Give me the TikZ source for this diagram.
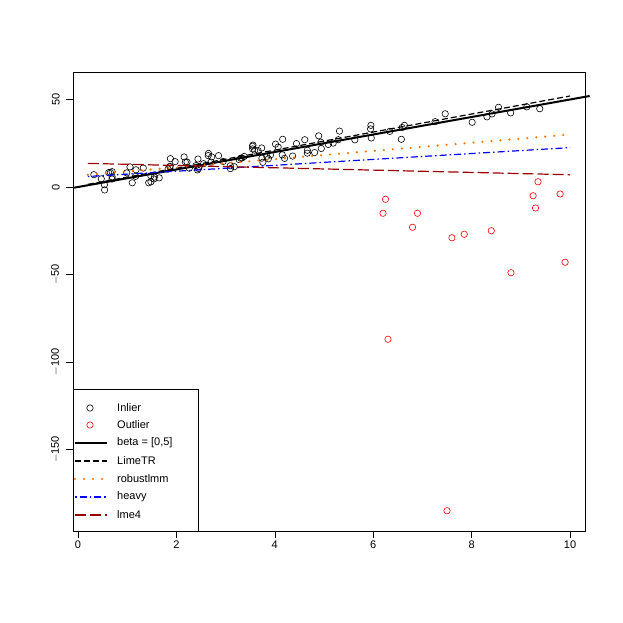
\documentclass[tikz,border=0pt]{standalone}
\usepackage{fontspec}
\setmainfont{Liberation Sans}
\usetikzlibrary{positioning}

\begin{document}
\begin{tikzpicture}[
    x=1pt, y=-1pt,
    font=\fontsize{11}{13}\selectfont,
    pt/.style={circle, draw, inner sep=0pt, minimum size=6.4pt, line width=0.6pt},
    inl/.style={pt, draw=black},
    outl/.style={pt, draw=red},
    betaline/.style={line width=2pt, draw=black},
    limeline/.style={line width=1.2pt, draw=black, dash pattern=on 6pt off 3pt},
    robustline/.style={line width=2.4pt, draw=orange!90!red, dash pattern=on 0pt off 9pt, line cap=round},
    heavyline/.style={line width=1.2pt, draw=blue, dash pattern=on 1.5pt off 3pt on 7pt off 3pt},
    lmeline/.style={line width=1.2pt, draw=red!60!black, dash pattern=on 11pt off 4pt},
    tick/.style={line width=0.5pt}
]
    \useasboundingbox (0,0) rectangle (623,623);
    % frame and axes
    \draw[tick] (73,72) rectangle (585,531);
    \foreach \v in {0,2,...,10}
        \draw[tick] ({78+49.2*\v},531) -- ({78+49.2*\v},538)
            node[below=3pt, inner sep=0pt] (xt\v) {\v};
    \foreach \v/\t in {50/50,0/0,-50/$-$50,-100/$-$100,-150/$-$150}
        \draw[tick] (73,{187-1.75*\v}) -- (66,{187-1.75*\v})
            node[left=6pt, inner sep=0pt, rotate=90, anchor=south] (yt\v) {\t};

    % data
    \begin{scope}[shift={(78,187)}, x=49.2pt, y=1.75pt]
        \pgfmathsetseed{5}
        \foreach \i in {1,...,78} {
            \pgfmathsetmacro\xx{0.25+5.1*rnd}
            \pgfmathsetmacro\yy{5*\xx+1+6*rand}
            \node[inl] (in\i) at (\xx,\yy) {};
        }
        \foreach \i in {1,...,17} {
            \pgfmathsetmacro\xx{5.4+4.4*rnd}
            \pgfmathsetmacro\yy{5*\xx+6*rand}
            \node[inl] (ix\i) at (\xx,\yy) {};
        }
        \foreach \xx/\yy [count=\i] in {6.2/-15,6.25/-7,6.3/-87,6.8/-23,6.9/-15,
            7.5/-185,7.6/-29,7.85/-27,8.4/-25,8.8/-49,9.25/-5,9.3/-12,
            9.35/3,9.8/-4,9.9/-43}
            \node[outl] (out\i) at (\xx,\yy) {};
        \coordinate (b0) at (-0.1,-0.5);
        \coordinate (b1) at (10.4,52);
        \coordinate (l0) at (0.2,1.5);
        \coordinate (l1) at (10,52);
        \coordinate (r0) at (0.2,7);
        \coordinate (r1) at (10,30);
        \coordinate (h0) at (0.2,6);
        \coordinate (h1) at (10,22.5);
        \coordinate (m0) at (0.2,13.5);
        \coordinate (m1) at (10,7);
        \draw[betaline] (b0) -- (b1);
        \draw[limeline] (l0) -- (l1);
        \draw[robustline] (r0) -- (r1);
        \draw[heavyline] (h0) -- (h1);
        \draw[lmeline] (m0) -- (m1);
    \end{scope}

    % legend
    \draw[tick, fill=white] (73,389) rectangle (198,531);
    \node[inl] (kin) at (90,408) {};
    \node[outl] (kout) at (90,425) {};
    \foreach \s/\n/\y in {betaline/kb/443,limeline/kl/461,robustline/kr/479,heavyline/kh/497,lmeline/km/515} {
        \coordinate (\n0) at (75,\y);
        \coordinate (\n1) at (107,\y);
        \draw[\s] (\n0) -- (\n1);
    }
    \foreach \t/\y [count=\i] in {Inlier/408,Outlier/425,{beta = [0,5]}/443,LimeTR/461,
        robustlmm/479,heavy/497,lme4/515}
        \node[anchor=west, inner sep=0pt] (lab\i) at (117,\y) {\t};
\end{tikzpicture}
\end{document}
